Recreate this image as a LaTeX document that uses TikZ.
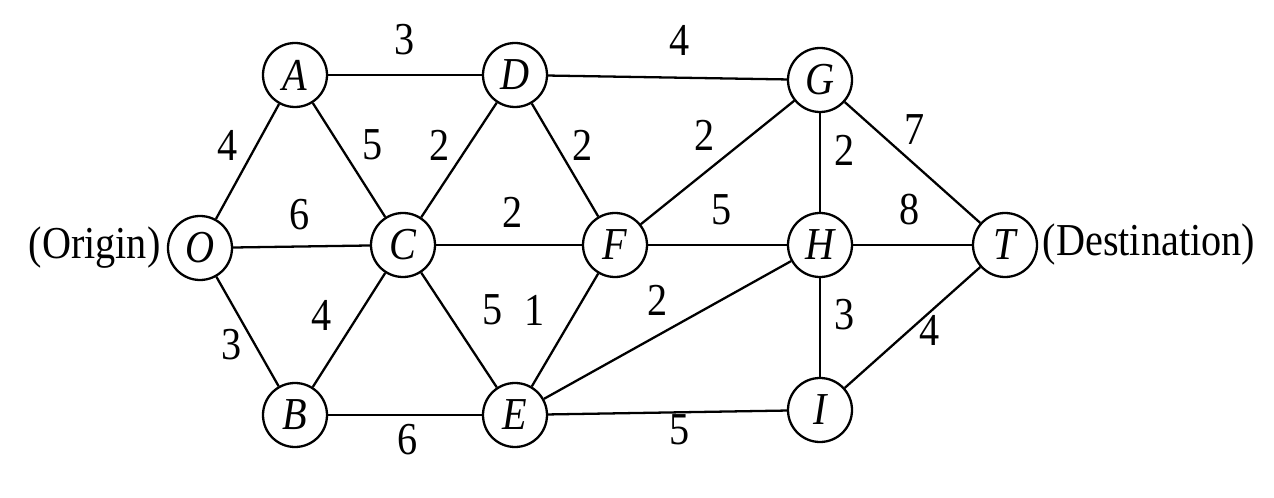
\documentclass[tikz,border=0pt]{standalone}
\usepackage{fontspec}
\setmainfont{Liberation Serif}
\newfontfamily\narrowserif[FakeStretch=0.88]{Liberation Serif}
\usetikzlibrary{positioning}

\begin{document}
\begin{tikzpicture}[vertex/.style={circle,draw,line width=1.3pt,minimum size=1.28cm,inner sep=0pt,font=\fontsize{26}{26}\selectfont\narrowserif\itshape},
  weight/.style={inner sep=1pt,font=\fontsize{26}{26}\selectfont\narrowserif},
  every path/.style={line width=1.3pt}]
  \useasboundingbox (0,0) rectangle (25.48,9.96);
  % nodes
  \node[vertex](O) at (4.00,5.00){O};
  \node[vertex](A) at (5.90,8.46){A};
  \node[vertex](B) at (5.90,1.66){B};
  \node[vertex](C) at (8.06,5.06){C};
  \node[vertex](D) at (10.30,8.46){D};
  \node[vertex](E) at (10.30,1.66){E};
  \node[vertex](F) at (12.30,5.06){F};
  \node[vertex](G) at (16.40,8.36){G};
  \node[vertex](H) at (16.40,5.06){H};
  \node[vertex](I) at (16.40,1.76){I};
  \node[vertex](T) at (20.10,5.06){T};
  \node[weight,left=2pt of O](origin){(Origin)};
  \node[weight,right=1pt of T](dest){(Destination)};
  % edges
  \draw (O) -- (A);
  \draw (O) -- (C);
  \draw (O) -- (B);
  \draw (A) -- (D);
  \draw (A) -- (C);
  \draw (B) -- (C);
  \draw (B) -- (E);
  \draw (C) -- (D);
  \draw (C) -- (F);
  \draw (C) -- (E);
  \draw (D) -- (G);
  \draw (D) -- (F);
  \draw (E) -- (F);
  \draw (E) -- (H);
  \draw (E) -- (I);
  \draw (F) -- (G);
  \draw (F) -- (H);
  \draw (G) -- (H);
  \draw (G) -- (T);
  \draw (H) -- (T);
  \draw (H) -- (I);
  \draw (I) -- (T);
  % distances
  \node[weight](ad) at (8.10,9.16){3};
  \node[weight](dg) at (13.60,9.16){4};
  \node[weight](oa) at (4.56,7.06){4};
  \node[weight](ac) at (7.46,7.06){5};
  \node[weight](cd) at (8.80,7.06){2};
  \node[weight](df) at (11.66,7.06){2};
  \node[weight](fg) at (14.10,7.26){2};
  \node[weight](gh) at (16.90,6.96){2};
  \node[weight](gt) at (18.30,7.36){7};
  \node[weight](oc) at (6.00,5.66){6};
  \node[weight](cf) at (10.26,5.72){2};
  \node[weight](fh) at (14.44,5.76){5};
  \node[weight](ht) at (18.20,5.76){8};
  \node[weight](cb) at (6.44,3.66){4};
  \node[weight](ob) at (4.64,3.06){3};
  \node[weight](ce) at (9.86,3.76){5};
  \node[weight](ef) at (10.70,3.76){1};
  \node[weight](eh) at (13.16,3.96){2};
  \node[weight](hi) at (16.90,3.66){3};
  \node[weight](it) at (18.60,3.36){4};
  \node[weight](be) at (8.16,1.16){6};
  \node[weight](ei) at (13.60,1.36){5};
\end{tikzpicture}
\end{document}
